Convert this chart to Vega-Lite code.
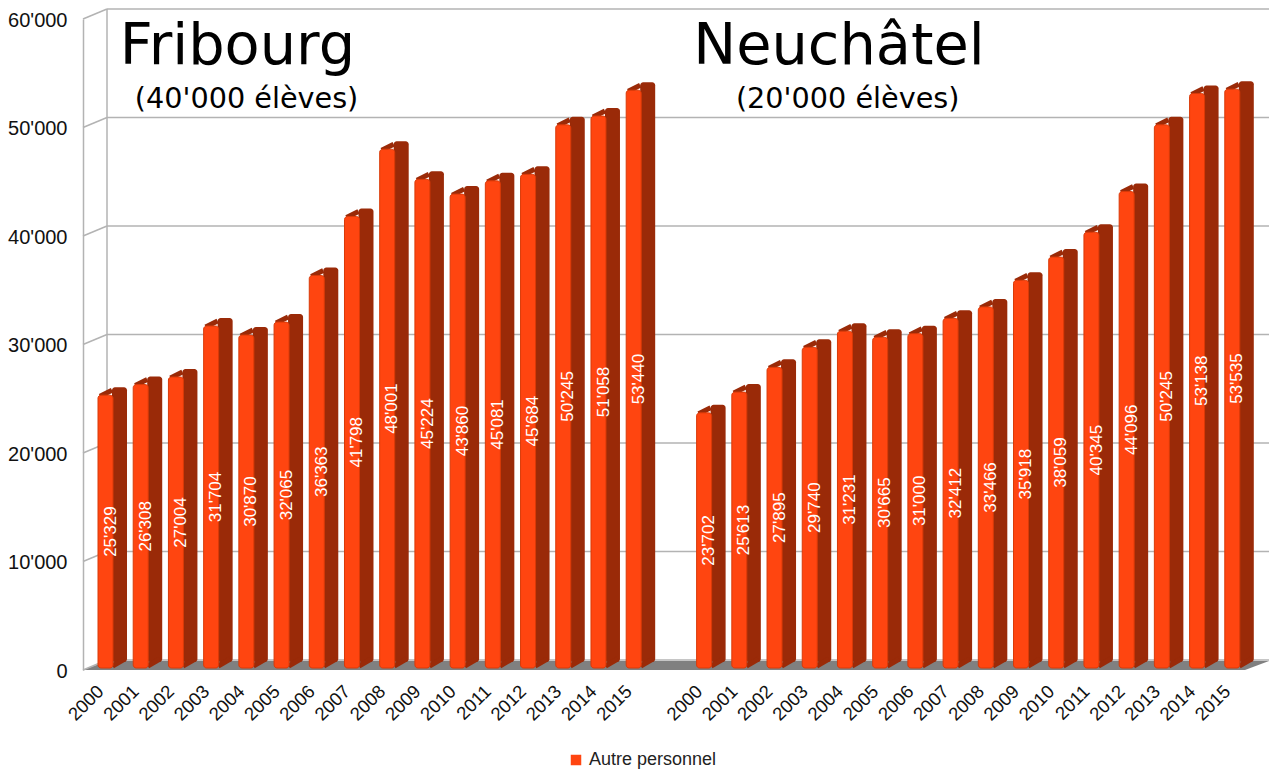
{"$schema":"https://vega.github.io/schema/vega-lite/v6.json","width":1162,"height":651,"autosize":"none","padding":{"left":83,"top":19,"right":24,"bottom":99},"background":"white","config":{"view":{"stroke":null}},"datasets":{"bars":[{"k":"F2000","v":25329,"label":"25'329","series":"Autre personnel"},{"k":"F2001","v":26308,"label":"26'308","series":"Autre personnel"},{"k":"F2002","v":27004,"label":"27'004","series":"Autre personnel"},{"k":"F2003","v":31704,"label":"31'704","series":"Autre personnel"},{"k":"F2004","v":30870,"label":"30'870","series":"Autre personnel"},{"k":"F2005","v":32065,"label":"32'065","series":"Autre personnel"},{"k":"F2006","v":36363,"label":"36'363","series":"Autre personnel"},{"k":"F2007","v":41798,"label":"41'798","series":"Autre personnel"},{"k":"F2008","v":48001,"label":"48'001","series":"Autre personnel"},{"k":"F2009","v":45224,"label":"45'224","series":"Autre personnel"},{"k":"F2010","v":43860,"label":"43'860","series":"Autre personnel"},{"k":"F2011","v":45081,"label":"45'081","series":"Autre personnel"},{"k":"F2012","v":45684,"label":"45'684","series":"Autre personnel"},{"k":"F2013","v":50245,"label":"50'245","series":"Autre personnel"},{"k":"F2014","v":51058,"label":"51'058","series":"Autre personnel"},{"k":"F2015","v":53440,"label":"53'440","series":"Autre personnel"},{"k":"N2000","v":23702,"label":"23'702","series":"Autre personnel"},{"k":"N2001","v":25613,"label":"25'613","series":"Autre personnel"},{"k":"N2002","v":27895,"label":"27'895","series":"Autre personnel"},{"k":"N2003","v":29740,"label":"29'740","series":"Autre personnel"},{"k":"N2004","v":31231,"label":"31'231","series":"Autre personnel"},{"k":"N2005","v":30665,"label":"30'665","series":"Autre personnel"},{"k":"N2006","v":31000,"label":"31'000","series":"Autre personnel"},{"k":"N2007","v":32412,"label":"32'412","series":"Autre personnel"},{"k":"N2008","v":33466,"label":"33'466","series":"Autre personnel"},{"k":"N2009","v":35918,"label":"35'918","series":"Autre personnel"},{"k":"N2010","v":38059,"label":"38'059","series":"Autre personnel"},{"k":"N2011","v":40345,"label":"40'345","series":"Autre personnel"},{"k":"N2012","v":44096,"label":"44'096","series":"Autre personnel"},{"k":"N2013","v":50245,"label":"50'245","series":"Autre personnel"},{"k":"N2014","v":53138,"label":"53'138","series":"Autre personnel"},{"k":"N2015","v":53535,"label":"53'535","series":"Autre personnel"}],"ticks":[{"v":0},{"v":10000},{"v":20000},{"v":30000},{"v":40000},{"v":50000},{"v":60000}],"floor":[{"p":0,"lo":0,"hi":0},{"p":24,"lo":0,"hi":830},{"p":1162,"lo":0,"hi":830},{"p":1186,"lo":830,"hi":830}]},"resolve":{"scale":{"x":"independent"}},"layer":[{"data":{"name":"floor"},"mark":{"type":"area","color":"#808080"},"encoding":{"x":{"field":"p","type":"quantitative","scale":{"domain":[0,1162],"nice":false,"zero":false},"axis":null},"y":{"field":"lo","type":"quantitative","scale":{"domain":[0,60000],"nice":false},"axis":{"title":null,"values":[0,10000,20000,30000,40000,50000,60000],"labelExpr":"replace(format(datum.value,','),',',\"'\")","labelFont":"Liberation Sans","labelFontSize":20,"labelColor":"#111111","labelPadding":16,"labelOffset":1,"ticks":false,"grid":false,"domainColor":"#b3b3b3","domainWidth":1.5}},"y2":{"field":"hi"}}},{"data":{"name":"ticks"},"mark":{"type":"rule","color":"#b3b3b3","strokeWidth":1.5,"xOffset":24,"x2Offset":24,"yOffset":-10,"y2Offset":-10},"encoding":{"x":{"datum":0,"type":"quantitative","scale":{"domain":[0,1162],"nice":false,"zero":false},"axis":null},"x2":{"datum":1162},"y":{"field":"v","type":"quantitative"},"y2":{"field":"v"}}},{"data":{"name":"ticks"},"mark":{"type":"rule","color":"#b3b3b3","strokeWidth":1.5,"xOffset":0,"x2Offset":24,"yOffset":0,"y2Offset":-10},"encoding":{"x":{"datum":0,"type":"quantitative","scale":{"domain":[0,1162],"nice":false,"zero":false},"axis":null},"x2":{"datum":0},"y":{"field":"v","type":"quantitative"},"y2":{"field":"v"}}},{"data":{"values":[{"a":0,"b":60000}]},"mark":{"type":"rule","color":"#b3b3b3","strokeWidth":1.5,"xOffset":24,"yOffset":-10,"y2Offset":-10},"encoding":{"x":{"datum":0,"type":"quantitative","scale":{"domain":[0,1162],"nice":false,"zero":false},"axis":null},"y":{"field":"a","type":"quantitative"},"y2":{"field":"b"}}},{"data":{"name":"bars"},"layer":[{"mark":{"type":"bar","width":15,"color":"#9a2a08","cornerRadius":3,"xOffset":18.9,"yOffset":-8,"y2Offset":-8},"encoding":{"x":{"field":"k","type":"nominal","sort":null,"scale":{"domain":["F2000","F2001","F2002","F2003","F2004","F2005","F2006","F2007","F2008","F2009","F2010","F2011","F2012","F2013","F2014","F2015","gap","N2000","N2001","N2002","N2003","N2004","N2005","N2006","N2007","N2008","N2009","N2010","N2011","N2012","N2013","N2014","N2015"],"paddingInner":0,"paddingOuter":0},"axis":{"title":null,"labelExpr":"datum.value=='gap'?'':slice(datum.value,1)","labelAngle":-45,"labelAlign":"right","labelBaseline":"middle","labelFont":"Liberation Sans","labelFontSize":18.5,"labelColor":"#111111","labelPadding":18,"labelOverlap":false,"ticks":false,"domain":false,"grid":false}},"y":{"field":"v","type":"quantitative","stack":null},"y2":{"datum":0}}},{"mark":{"type":"rule","color":"#9a2a08","strokeWidth":5,"xOffset":-0.6,"x2Offset":11.4,"yOffset":1,"y2Offset":-5},"encoding":{"x":{"field":"k","type":"nominal","sort":null},"x2":{"field":"k"},"y":{"field":"v","type":"quantitative"},"y2":{"field":"v"}}},{"mark":{"type":"rule","color":"#9a2a08","strokeWidth":5,"xOffset":12,"x2Offset":24,"yOffset":-4,"y2Offset":-11},"encoding":{"x":{"field":"k","type":"nominal","sort":null},"x2":{"field":"k"},"y":{"datum":0,"type":"quantitative"},"y2":{"datum":0}}},{"mark":{"type":"bar","width":15,"cornerRadius":3,"stroke":"#d93a08","strokeWidth":1,"xOffset":4.9,"yOffset":0,"y2Offset":-2},"encoding":{"x":{"field":"k","type":"nominal","sort":null},"y":{"field":"v","type":"quantitative","stack":null},"y2":{"datum":0},"color":{"field":"series","type":"nominal","scale":{"domain":["Autre personnel"],"range":["#ff4510"]},"legend":{"title":null,"orient":"none","legendX":484,"legendY":732,"symbolType":"square","symbolSize":110,"symbolStrokeWidth":0,"labelFont":"Liberation Sans","labelFontSize":18,"labelColor":"#222222"}}}},{"transform":[{"calculate":"datum.v/2","as":"mid"}],"mark":{"type":"text","angle":270,"color":"white","font":"Liberation Sans","fontSize":17,"xOffset":10,"yOffset":-1,"align":"center","baseline":"middle"},"encoding":{"x":{"field":"k","type":"nominal","sort":null},"y":{"field":"mid","type":"quantitative"},"text":{"field":"label"}}}]},{"data":{"values":[{"k":"F2001","pos":55850,"t":"Fribourg"}]},"mark":{"type":"text","font":"DejaVu Sans","fontSize":57.4,"align":"left","baseline":"alphabetic","color":"#000000","dx":-16},"encoding":{"x":{"field":"k","type":"nominal","scale":{"domain":["F2000","F2001","F2002","F2003","F2004","F2005","F2006","F2007","F2008","F2009","F2010","F2011","F2012","F2013","F2014","F2015","gap","N2000","N2001","N2002","N2003","N2004","N2005","N2006","N2007","N2008","N2009","N2010","N2011","N2012","N2013","N2014","N2015"],"paddingInner":0,"paddingOuter":0},"axis":null},"y":{"field":"pos","type":"quantitative"},"text":{"field":"t"}}},{"data":{"values":[{"k":"N2000","pos":55850,"t":"Neuchâtel"}]},"mark":{"type":"text","font":"DejaVu Sans","fontSize":57.4,"align":"left","baseline":"alphabetic","color":"#000000","dx":-6},"encoding":{"x":{"field":"k","type":"nominal","scale":{"domain":["F2000","F2001","F2002","F2003","F2004","F2005","F2006","F2007","F2008","F2009","F2010","F2011","F2012","F2013","F2014","F2015","gap","N2000","N2001","N2002","N2003","N2004","N2005","N2006","N2007","N2008","N2009","N2010","N2011","N2012","N2013","N2014","N2015"],"paddingInner":0,"paddingOuter":0},"axis":null},"y":{"field":"pos","type":"quantitative"},"text":{"field":"t"}}},{"data":{"values":[{"k":"F2001","pos":51800,"t":"(40'000 élèves)"}]},"mark":{"type":"text","font":"DejaVu Sans","fontSize":28.7,"align":"left","baseline":"alphabetic","color":"#000000","dx":-1},"encoding":{"x":{"field":"k","type":"nominal","scale":{"domain":["F2000","F2001","F2002","F2003","F2004","F2005","F2006","F2007","F2008","F2009","F2010","F2011","F2012","F2013","F2014","F2015","gap","N2000","N2001","N2002","N2003","N2004","N2005","N2006","N2007","N2008","N2009","N2010","N2011","N2012","N2013","N2014","N2015"],"paddingInner":0,"paddingOuter":0},"axis":null},"y":{"field":"pos","type":"quantitative"},"text":{"field":"t"}}},{"data":{"values":[{"k":"N2001","pos":51800,"t":"(20'000 élèves)"}]},"mark":{"type":"text","font":"DejaVu Sans","fontSize":28.7,"align":"left","baseline":"alphabetic","color":"#000000","dx":1.5},"encoding":{"x":{"field":"k","type":"nominal","scale":{"domain":["F2000","F2001","F2002","F2003","F2004","F2005","F2006","F2007","F2008","F2009","F2010","F2011","F2012","F2013","F2014","F2015","gap","N2000","N2001","N2002","N2003","N2004","N2005","N2006","N2007","N2008","N2009","N2010","N2011","N2012","N2013","N2014","N2015"],"paddingInner":0,"paddingOuter":0},"axis":null},"y":{"field":"pos","type":"quantitative"},"text":{"field":"t"}}}]}
